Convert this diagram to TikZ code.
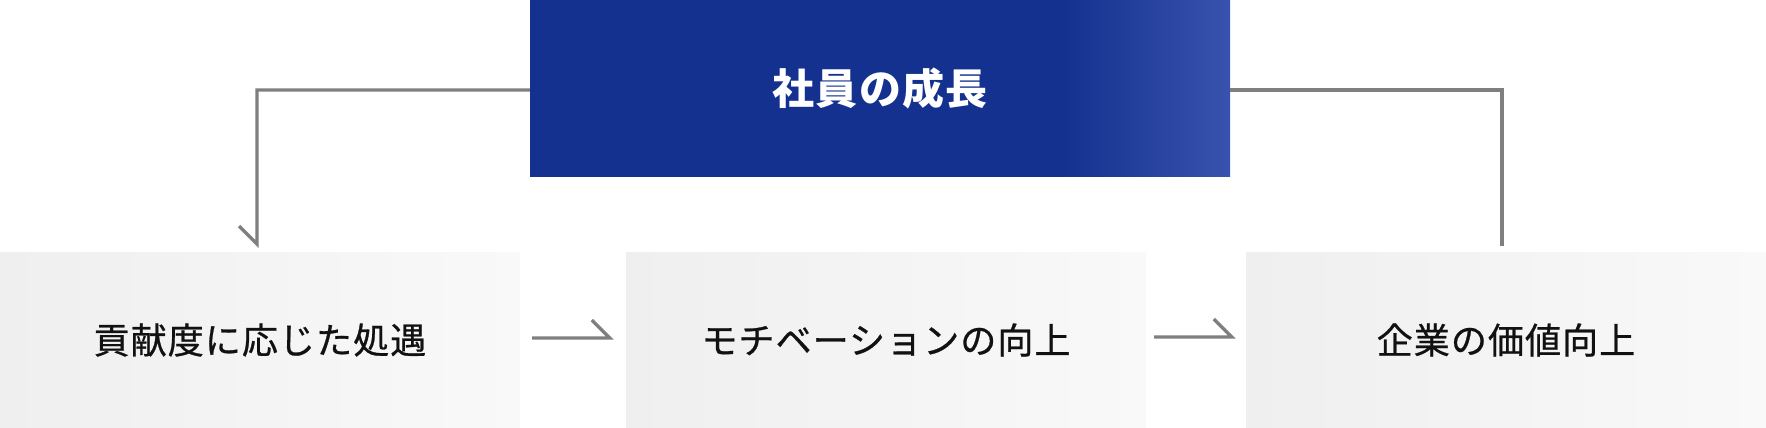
\documentclass[tikz,border=0pt]{standalone}
\usepackage{fontspec}
\newfontfamily\jp[LetterSpace=3,FakeBold=0.7]{Noto Sans CJK JP}
\newfontfamily\jpt[LetterSpace=3]{Noto Sans CJK JP}
\definecolor{navy}{HTML}{14318F}
\definecolor{navylight}{HTML}{3853AE}
\definecolor{boxL}{HTML}{EFEFEF}
\definecolor{boxR}{HTML}{F9F9F9}
\definecolor{conncol}{HTML}{7F7F7F}
\definecolor{txt}{HTML}{111111}
\pgfdeclarehorizontalshading{topgrad}{100bp}{color(0bp)=(navy); color(25bp)=(navy); color(63bp)=(navy); color(75bp)=(navylight); color(100bp)=(navylight)}
\begin{document}
\begin{tikzpicture}[x=1pt,y=-1pt,
  stepbox/.style={rectangle, inner sep=0pt, minimum width=520pt, minimum height=176pt,
    left color=boxL, right color=boxR, text=txt, font=\jp\fontsize{36}{40}\selectfont},
  conn/.style={draw=conncol, line width=3.4pt, line join=miter}]
\useasboundingbox (0,0) rectangle (1766,428);
\fill[white] (0,0) rectangle (1766,428);
% top box
\node[rectangle, inner sep=0pt, minimum width=700pt, minimum height=176pt, text=white,
  shading=topgrad, font=\jpt\bfseries\fontsize{42}{46}\selectfont] (top) at (880,88) {社員の成長};
% bottom boxes
\node[stepbox] (b1) at (260,340) {貢献度に応じた処遇};
\node[stepbox] (b2) at (886,340) {モチベーションの向上};
\node[stepbox] (b3) at (1506,340) {企業の価値向上};
% connectors
\coordinate (lt) at (257,244);
\coordinate (rt) at (1502,246);
\draw[conn] ([yshift=-2pt]top.west) -| (lt) -- ++(-18,-18);
\draw[conn] ([yshift=-2pt]top.east) -| (rt);
\draw[conn] ([xshift=12pt,yshift=2pt]b1.east) -- ([xshift=-16pt,yshift=2pt]b2.west) -- ++(-18,-18);
\draw[conn] ([xshift=8pt,yshift=3pt]b2.east) -- ([xshift=-14pt,yshift=3pt]b3.west) -- ++(-18,-18);
\end{tikzpicture}
\end{document}
